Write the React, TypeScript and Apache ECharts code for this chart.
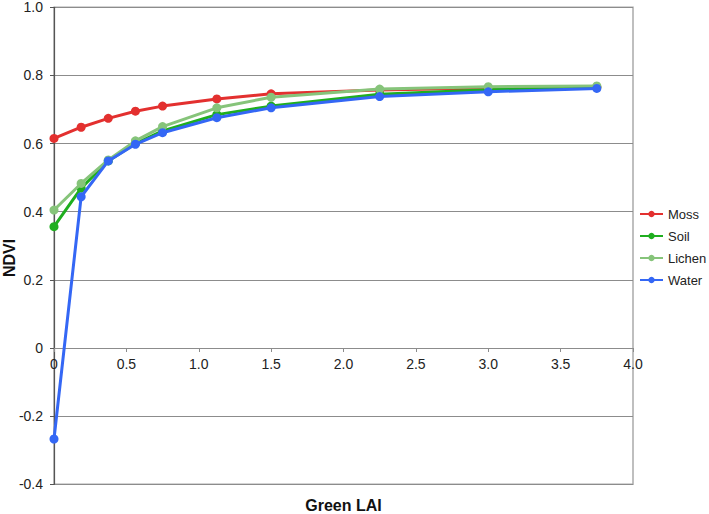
import React, { useEffect, useRef } from "react";
import * as echarts from "echarts";

const laiValues = [0, 0.1875, 0.375, 0.5625, 0.75, 1.125, 1.5, 2.25, 3, 3.75];
const mossNdvi = [0.615, 0.648, 0.674, 0.695, 0.71, 0.731, 0.746, 0.757, 0.763, 0.766];
const soilNdvi = [0.356, 0.469, 0.549, 0.6, 0.637, 0.685, 0.71, 0.745, 0.758, 0.765];
const lichenNdvi = [0.405, 0.483, 0.552, 0.608, 0.65, 0.705, 0.736, 0.76, 0.767, 0.769];
const waterNdvi = [-0.267, 0.444, 0.549, 0.598, 0.632, 0.676, 0.705, 0.738, 0.752, 0.762];
const seriesNames = ["Moss", "Soil", "Lichen", "Water"];
const seriesColors = ["#e3302f", "#1fae1f", "#86c47a", "#3467f5"];

const FONT = "'Liberation Sans', Arial, Helvetica, sans-serif";

function fmt(v: number) {
  return Math.abs(v) < 1e-9 ? "0" : v.toFixed(1);
}

const GRID_TOP = 7.3;
const GRID_BOTTOM = 29.7;
const CHART_H = 514;
const Y_MIN = -0.4;
const Y_MAX = 1.0;

export default function App() {
  const ref = useRef<HTMLDivElement>(null);
  useEffect(() => {
    if (!ref.current) return;
    const chart = echarts.init(ref.current, null, { renderer: "svg" });
    const all = [mossNdvi, soilNdvi, lichenNdvi, waterNdvi];
    const plotH = CHART_H - GRID_TOP - GRID_BOTTOM;
    // distance from bottom of plot to the y = 0 line
    const zeroOffset = ((0 - Y_MIN) / (Y_MAX - Y_MIN)) * plotH;
    chart.setOption({
      animation: false,
      backgroundColor: "#ffffff",
      textStyle: { fontFamily: FONT },
      grid: {
        left: 54,
        right: 76,
        top: GRID_TOP,
        bottom: GRID_BOTTOM,
        show: true,
        borderColor: "#aaaaaa",
        borderWidth: 1.5,
      },
      legend: {
        orient: "vertical",
        left: 639,
        top: 207.5,
        padding: 0,
        itemWidth: 23,
        itemHeight: 8,
        itemGap: 9,
        data: seriesNames,
        textStyle: { fontFamily: FONT, fontSize: 13, color: "#222" },
      },
      xAxis: {
        type: "value",
        min: 0,
        max: 4,
        interval: 0.5,
        position: "bottom",
        offset: -zeroOffset,
        axisLine: { onZero: false, lineStyle: { color: "#8c8c8c", width: 1 } },
        axisTick: { show: true, length: 4, lineStyle: { color: "#8c8c8c" } },
        axisLabel: {
          formatter: (v: number) => fmt(v),
          fontSize: 14,
          color: "#222",
          margin: 9,
          fontFamily: FONT,
        },
        splitLine: { show: false },
      },
      yAxis: {
        type: "value",
        min: Y_MIN,
        max: Y_MAX,
        interval: 0.2,
        axisLine: { show: true, onZero: false, lineStyle: { color: "#555", width: 1.2 } },
        axisTick: { show: true, length: 4, lineStyle: { color: "#555" } },
        axisLabel: {
          formatter: (v: number) => fmt(v),
          fontSize: 14,
          color: "#222",
          margin: 11,
          fontFamily: FONT,
        },
        splitLine: { show: true, lineStyle: { color: "#8c8c8c", width: 1 } },
      },
      graphic: [
        {
          type: "text",
          x: 9,
          y: 258,
          rotation: Math.PI / 2,
          style: {
            text: "NDVI",
            fontSize: 16,
            fontWeight: "bold",
            fontFamily: FONT,
            fill: "#111",
            textAlign: "center",
            textVerticalAlign: "middle",
          },
        },
        {
          type: "text",
          x: 343.5,
          y: 505,
          style: {
            text: "Green LAI",
            fontSize: 16,
            fontWeight: "bold",
            fontFamily: FONT,
            fill: "#111",
            textAlign: "center",
            textVerticalAlign: "middle",
          },
        },
      ],
      series: seriesNames.map((name, i) => ({
        name,
        type: "line",
        data: laiValues.map((x, j) => [x, all[i][j]]),
        symbol: "circle",
        symbolSize: 9,
        showSymbol: true,
        lineStyle: { width: 3, color: seriesColors[i] },
        itemStyle: { color: seriesColors[i] },
        z: 2 + i,
      })),
    });
    return () => chart.dispose();
  }, []);
  return (
    <div
      ref={ref}
      style={{ position: "fixed", left: 0, top: 0, width: 709, height: 514 }}
    />
  );
}
